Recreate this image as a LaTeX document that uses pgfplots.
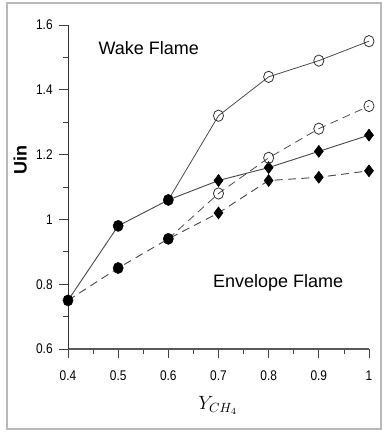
\documentclass[border=0pt]{standalone}
\usepackage{pgfplots}
\pgfplotsset{compat=1.18}
\usepackage{fontspec}
\setmainfont{Liberation Sans}
\definecolor{ln}{gray}{0.3}
\begin{document}
\begin{tikzpicture}
\useasboundingbox (0,0) rectangle (286.5pt,324pt);
\draw[gray!55, line width=1.5pt] (5.25pt,2.25pt) rectangle (285.5pt,321.75pt);
\begin{axis}[
  at={(51pt,62.25pt)}, anchor=south west,
  scale only axis, width=225.75pt, height=243pt,
  xmin=0.4, xmax=1, ymin=0.6, ymax=1.6,
  axis x line*=bottom, axis y line*=left,
  axis line style={-},
  x axis line style={line width=1.4pt, gray!70!black},
  y axis line style={line width=0.6pt, black!80},
  xtick={0.4,0.5,0.6,0.7,0.8,0.9,1},
  xticklabels={0.4,0.5,0.6,0.7,0.8,0.9,1},
  ytick={0.6,0.8,1,1.2,1.4,1.6},
  yticklabels={0.6,0.8,1,1.2,1.4,1.6},
  minor tick num=1,
  tick align=outside,
  major tick length=7pt, minor tick length=3.5pt,
  every tick/.style={black!75, line width=0.5pt},
  tick label style={font=\fontsize{10.5}{12}\selectfont\addfontfeatures{FakeStretch=0.85}},
  xticklabel style={yshift=-6pt},
  yticklabel style={xshift=-1pt},
  /pgf/number format/assume math mode=true,
  clip=false,
  xlabel={$Y_{CH_4}$},
  xlabel style={at={(axis description cs:0.498,-0.173)}, anchor=center, font=\Large},
  ylabel={\textbf{Uin}},
  ylabel style={at={(axis description cs:-0.159,0.584)}, anchor=center, rotate=0, font=\fontsize{13.5}{15}\selectfont},
]
% lines
\addplot[ln, line width=0.7pt, mark=none] coordinates {(0.4,0.75) (0.5,0.98) (0.6,1.06) (0.7,1.12) (0.8,1.16) (0.9,1.21) (1,1.26)};
\addplot[ln, line width=0.6pt, mark=none] coordinates {(0.6,1.06) (0.7,1.32) (0.8,1.44) (0.9,1.49) (1,1.55)};
\addplot[ln, line width=0.7pt, dash pattern=on 6pt off 4pt, mark=none] coordinates {(0.4,0.75) (0.5,0.85) (0.6,0.94) (0.7,1.02) (0.8,1.12) (0.9,1.13) (1,1.15)};
\addplot[ln, line width=0.6pt, dash pattern=on 6pt off 4pt, mark=none] coordinates {(0.6,0.94) (0.7,1.08) (0.8,1.19) (0.9,1.28) (1,1.35)};
% filled circles
\addplot[only marks, mark=*, mark size=3.8pt, black, mark options={yscale=1.1}] coordinates {(0.4,0.75) (0.5,0.98) (0.6,1.06) (0.5,0.85) (0.6,0.94)};
% filled diamonds
\addplot[only marks, mark=diamond*, mark size=4.5pt, black] coordinates {(0.7,1.12) (0.8,1.16) (0.9,1.21) (1,1.26) (0.7,1.02) (0.8,1.12) (0.9,1.13) (1,1.15)};
% open circles
\addplot[only marks, mark=o, mark size=3.8pt, black!80, mark options={fill=white, yscale=1.12, line width=0.6pt}] coordinates {(0.7,1.32) (0.8,1.44) (0.9,1.49) (1,1.55) (0.7,1.08) (0.8,1.19) (0.9,1.28) (1,1.35)};
\node[font=\fontsize{13.5}{15}\selectfont] at (axis cs:0.561,1.530) {Wake Flame};
\node[font=\fontsize{13.5}{15}\selectfont] at (axis cs:0.819,0.804) {Envelope Flame};
\end{axis}
\end{tikzpicture}
\end{document}
